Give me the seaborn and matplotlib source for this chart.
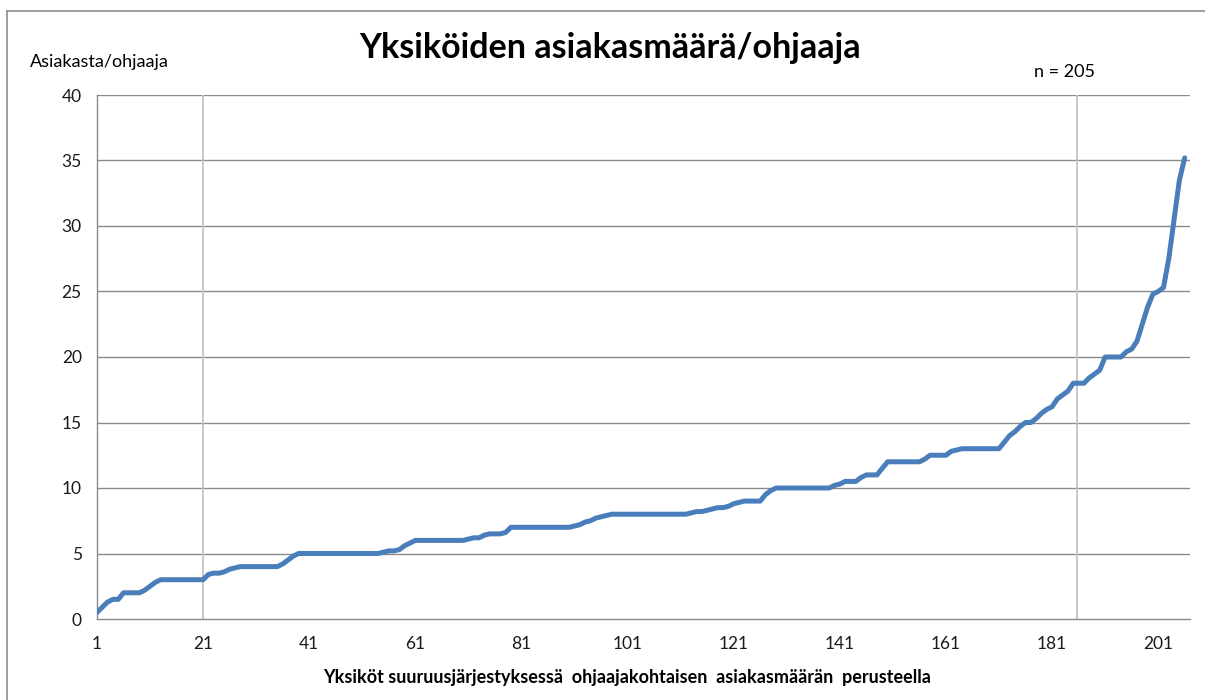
import matplotlib
matplotlib.use("Agg")
import matplotlib.pyplot as plt
import seaborn as sns
import pandas as pd
from matplotlib.lines import Line2D

# ---- data ----
values = [
    0.5, 0.9, 1.3, 1.5, 1.5, 2, 2, 2, 2, 2.2,          # 1-10
    2.5, 2.8, 3, 3, 3, 3, 3, 3, 3, 3,                  # 11-20
    3, 3.4, 3.5, 3.5, 3.6, 3.8, 3.9, 4, 4, 4,          # 21-30
    4, 4, 4, 4, 4, 4.2, 4.5, 4.8, 5, 5,                # 31-40
    5, 5, 5, 5, 5, 5, 5, 5, 5, 5,                      # 41-50
    5, 5, 5, 5, 5.1, 5.2, 5.2, 5.3, 5.6, 5.8,          # 51-60
    6, 6, 6, 6, 6, 6, 6, 6, 6, 6,                      # 61-70
    6.1, 6.2, 6.2, 6.4, 6.5, 6.5, 6.5, 6.6, 7, 7,      # 71-80
    7, 7, 7, 7, 7, 7, 7, 7, 7, 7,                      # 81-90
    7.1, 7.2, 7.4, 7.5, 7.7, 7.8, 7.9, 8, 8, 8,        # 91-100
    8, 8, 8, 8, 8, 8, 8, 8, 8, 8,                      # 101-110
    8, 8, 8.1, 8.2, 8.2, 8.3, 8.4, 8.5, 8.5, 8.6,      # 111-120
    8.8, 8.9, 9, 9, 9, 9, 9.5, 9.8, 10, 10,            # 121-130
    10, 10, 10, 10, 10, 10, 10, 10, 10, 10.2,          # 131-140
    10.3, 10.5, 10.5, 10.5, 10.8, 11, 11, 11, 11.5, 12,  # 141-150
    12, 12, 12, 12, 12, 12, 12.2, 12.5, 12.5, 12.5,    # 151-160
    12.5, 12.8, 12.9, 13, 13, 13, 13, 13, 13, 13,      # 161-170
    13, 13.5, 14, 14.3, 14.7, 15, 15, 15.3, 15.7, 16,  # 171-180
    16.2, 16.8, 17.1, 17.4, 18, 18, 18, 18.4, 18.7, 19,  # 181-190
    20, 20, 20, 20, 20.4, 20.6, 21.2, 22.5, 23.8, 24.8,  # 191-200
    25, 25.3, 27.5, 30.5, 33.5, 35.2,                  # 201-206
]
units = list(range(1, len(values) + 1))
x_ticks = list(range(1, 202, 20))
y_ticks = list(range(0, 41, 5))
ref_lines = [21, 185.7]

title = "Yksiköiden asiakasmäärä/ohjaaja"
y_label = "Asiakasta/ohjaaja"
x_label = "Yksiköt suuruusjärjestyksessä  ohjaajakohtaisen  asiakasmäärän  perusteella"
n_text = "n = 205"

df = pd.DataFrame({"yksikko": units, "asiakasta": values})

sns.set_style("white")
plt.rcParams["font.family"] = ["Lato", "DejaVu Sans"]

fig = plt.figure(figsize=(12.05, 7.0), dpi=100)
# chart-area border: only left and top edges visible in the reference
bx, by = 7 / 1205, 1 - 11 / 700
fig.lines.append(Line2D([bx, bx], [0, by], transform=fig.transFigure,
                        color="#8c8c8c", linewidth=1.2))
fig.lines.append(Line2D([bx, 1.01], [by, by], transform=fig.transFigure,
                        color="#8c8c8c", linewidth=1.2))

ax = fig.add_axes([97 / 1205, 1 - 619 / 700, (1190 - 97) / 1205, (619 - 95) / 700])

for y in y_ticks[1:]:
    ax.axhline(y, color="#8a8a8a", linewidth=1.0, zorder=1)
for xv in ref_lines:
    ax.axvline(xv, color="#c4c4c4", linewidth=1.3, zorder=1)

sns.lineplot(data=df, x="yksikko", y="asiakasta", ax=ax, color="#4a7ebb",
             linewidth=3.6, zorder=3, solid_capstyle="round")

ax.set_xlim(1, 207)
ax.set_ylim(0, 40)
ax.set_xticks(x_ticks)
ax.set_yticks(y_ticks)
ax.set_xlabel("")
ax.set_ylabel("")
ax.tick_params(axis="both", which="major", direction="out", length=5,
               width=1, color="#8a8a8a", labelsize=12.5, labelcolor="#1a1a1a")
ax.tick_params(axis="x", pad=7)
ax.tick_params(axis="y", pad=6)
for side in ["top", "right"]:
    ax.spines[side].set_visible(False)
for side in ["left", "bottom"]:
    ax.spines[side].set_color("#8a8a8a")
    ax.spines[side].set_linewidth(1.0)

fig.text(610 / 1205, 1 - 48 / 700, title, ha="center", va="center",
         fontsize=24.5, fontweight="bold", color="#000000")
fig.text(30 / 1205, 1 - 62 / 700, y_label, ha="left", va="center",
         fontsize=13, color="#000000")
fig.text(1065 / 1205, 1 - 72 / 700, n_text, ha="center", va="center",
         fontsize=13, color="#000000")
fig.text(627 / 1205, 1 - 677 / 700, x_label, ha="center", va="center",
         fontsize=13, fontweight="bold", color="#000000")

fig.savefig("out.png", dpi=100)
